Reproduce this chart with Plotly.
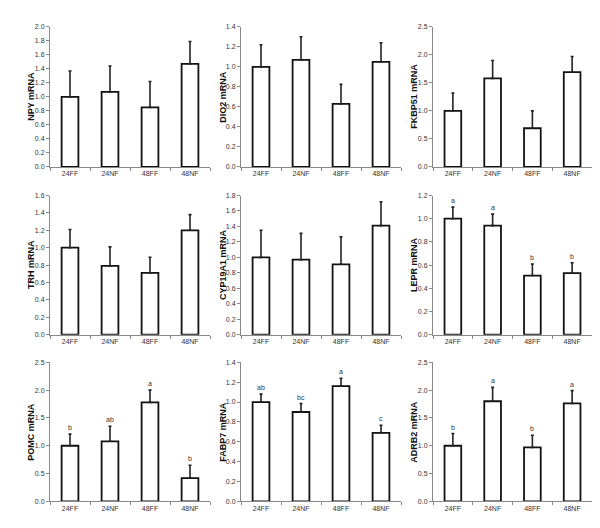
import plotly.graph_objects as go

groups = ["24FF", "24NF", "48FF", "48NF"]

# mean expression and SE (upper error bar only)
npy_mean = [1.00, 1.07, 0.85, 1.47]
npy_se = [0.37, 0.37, 0.37, 0.32]
dio2_mean = [1.00, 1.07, 0.63, 1.05]
dio2_se = [0.22, 0.23, 0.195, 0.19]
fkbp51_mean = [1.00, 1.58, 0.69, 1.69]
fkbp51_se = [0.32, 0.32, 0.31, 0.28]
trh_mean = [1.00, 0.79, 0.71, 1.20]
trh_se = [0.21, 0.22, 0.18, 0.18]
cyp19a1_mean = [1.00, 0.97, 0.91, 1.41]
cyp19a1_se = [0.35, 0.34, 0.355, 0.31]
lepr_mean = [1.00, 0.94, 0.51, 0.53]
lepr_se = [0.10, 0.10, 0.10, 0.09]
lepr_letters = ["a", "a", "b", "b"]
pomc_mean = [1.00, 1.08, 1.78, 0.42]
pomc_se = [0.21, 0.27, 0.22, 0.23]
pomc_letters = ["b", "ab", "a", "b"]
fabp7_mean = [1.00, 0.90, 1.16, 0.69]
fabp7_se = [0.08, 0.085, 0.08, 0.077]
fabp7_letters = ["ab", "bc", "a", "c"]
adrb2_mean = [1.00, 1.80, 0.97, 1.76]
adrb2_se = [0.22, 0.25, 0.22, 0.23]
adrb2_letters = ["b", "a", "b", "a"]

panels = [
    ("NPY mRNA", npy_mean, npy_se, None, 2.0, 0.2),
    ("DIO2 mRNA", dio2_mean, dio2_se, None, 1.4, 0.2),
    ("FKBP51 mRNA", fkbp51_mean, fkbp51_se, None, 2.5, 0.5),
    ("TRH mRNA", trh_mean, trh_se, None, 1.6, 0.2),
    ("CYP19A1 mRNA", cyp19a1_mean, cyp19a1_se, None, 1.8, 0.2),
    ("LEPR mRNA", lepr_mean, lepr_se, lepr_letters, 1.2, 0.2),
    ("POMC mRNA", pomc_mean, pomc_se, pomc_letters, 2.5, 0.5),
    ("FABP7 mRNA", fabp7_mean, fabp7_se, fabp7_letters, 1.4, 0.2),
    ("ADRB2 mRNA", adrb2_mean, adrb2_se, adrb2_letters, 2.5, 0.5),
]

W, H = 600, 528
# plot area in pixels
col_x = [(42, 202), (233, 393), (425, 584)]
row_y = [(15, 157), (186, 327), (355, 496)]
title_x = [23, 215, 406]

tick_font = dict(family="Liberation Sans Narrow, Arial Narrow, Liberation Sans, Arial", size=7, color="#333333")

fig = go.Figure()
annotations = []
layout = {}

for i, (label, mean, se, letters, ymax, dt) in enumerate(panels):
    r, c = divmod(i, 3)
    n = "" if i == 0 else str(i + 1)
    x0, x1 = col_x[c]
    yt, yb = row_y[r]

    fig.add_trace(go.Bar(
        x=groups, y=mean, width=0.42,
        marker=dict(color="white", line=dict(color="#111111", width=1.8)),
        error_y=dict(type="data", array=se, arrayminus=[0] * 4, symmetric=False,
                     color="#222222", thickness=1.6, width=1.5),
        xaxis="x" + n, yaxis="y" + n, showlegend=False,
    ))

    layout["xaxis" + n] = dict(
        domain=[x0 / W, x1 / W], anchor="y" + n, type="category",
        showline=True, linecolor="#888888", linewidth=1,
        ticks="outside", tickson="boundaries", ticklen=3, tickcolor="#888888",
        showgrid=False, tickfont=tick_font, fixedrange=True,
    )
    layout["yaxis" + n] = dict(
        domain=[1 - yb / H, 1 - yt / H], anchor="x" + n,
        range=[0, ymax], dtick=dt, tick0=0, tickformat=".1f",
        showline=True, linecolor="#888888", linewidth=1,
        ticks="outside", ticklen=3, tickcolor="#888888",
        showgrid=False, zeroline=False, tickfont=tick_font, fixedrange=True,
    )

    annotations.append(dict(
        text="<b>" + label + "</b>", textangle=-90,
        x=title_x[c] / W, y=1 - (yt + yb) / 2 / H, xref="paper", yref="paper",
        xanchor="center", yanchor="middle", showarrow=False,
        font=dict(family="Arial, Liberation Sans", size=9, color="#111111"),
    ))

    if letters:
        for g, m, s, t in zip(groups, mean, se, letters):
            annotations.append(dict(
                text=t, x=g, y=m + s, xref="x" + n, yref="y" + n,
                xanchor="center", yanchor="bottom", yshift=1, showarrow=False,
                font=tick_font,
            ))

fig.update_layout(
    width=W, height=H,
    margin=dict(l=0, r=0, t=0, b=0),
    plot_bgcolor="white", paper_bgcolor="white",
    annotations=annotations,
    **layout,
)

fig.write_html("out.html")
